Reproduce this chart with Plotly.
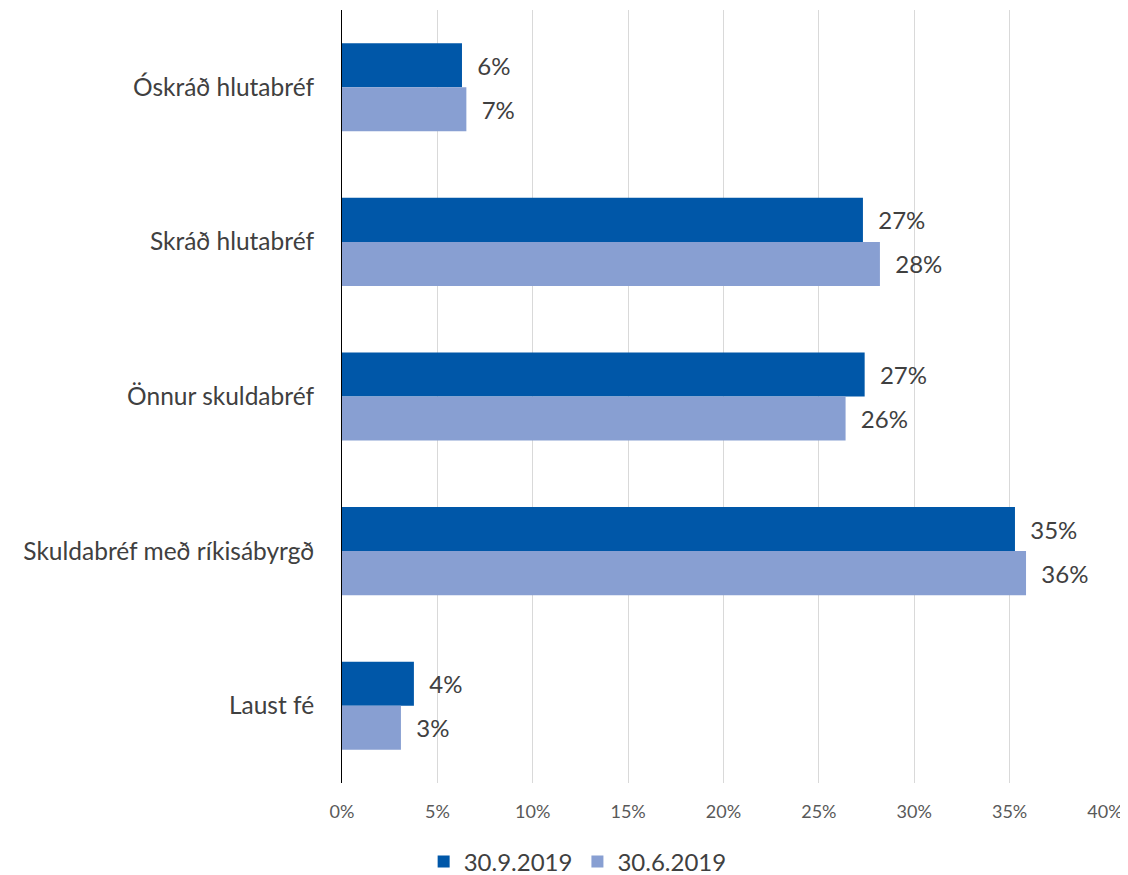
import plotly.graph_objects as go

categories = ["Óskráð hlutabréf", "Skráð hlutabréf", "Önnur skuldabréf",
              "Skuldabréf með ríkisábyrgð", "Laust fé"]
series_names = ["30.9.2019", "30.6.2019"]
values_sep = [6.29, 27.31, 27.4, 35.28, 3.77]
values_jun = [6.52, 28.2, 26.4, 35.86, 3.09]
colors = ["#0057A8", "#889FD2"]
x_ticks = [0, 5, 10, 15, 20, 25, 30, 35, 40]
x_tick_labels = [f"{t}%" for t in x_ticks]

font = "Lato, 'Open Sans', sans-serif"

fig = go.Figure()
for name, vals, col in zip(series_names, [values_sep, values_jun], colors):
    fig.add_trace(go.Bar(
        y=categories, x=vals, name=name, orientation="h",
        marker=dict(color=col, line=dict(width=0)),
        text=["\u00a0\u00a0" + f"{int(v + 0.5)}%" for v in vals],
        textposition="outside", cliponaxis=False,
        textfont=dict(size=24, color="#404040", family=font),
    ))

fig.update_layout(
    width=1120, height=867,
    margin=dict(l=334, r=23, t=2, b=92, autoexpand=False),
    paper_bgcolor="white", plot_bgcolor="white",
    barmode="group", bargap=0.43, bargroupgap=0,
    font=dict(family=font, color="#404040"),
    showlegend=True,
    legend=dict(orientation="h", x=0.107, xanchor="left", y=-0.102, yanchor="middle",
                font=dict(size=24, color="#404040"), itemwidth=30,
                traceorder="normal"),
)
fig.update_xaxes(
    range=[0, 40], tickvals=x_ticks, ticktext=x_tick_labels,
    showgrid=True, gridcolor="#D9D9D9", gridwidth=1,
    zeroline=False, showline=False, automargin=False,
    tickfont=dict(size=18, color="#595959"), ticks="", ticklabelstandoff=16,
)
fig.update_yaxes(
    autorange="reversed", showgrid=False, zeroline=False,
    showline=True, linecolor="#000000", linewidth=1, automargin=False,
    tickfont=dict(size=24.5, color="#404040"), ticks="", ticklabelstandoff=22,
)
fig.write_html("out.html")
